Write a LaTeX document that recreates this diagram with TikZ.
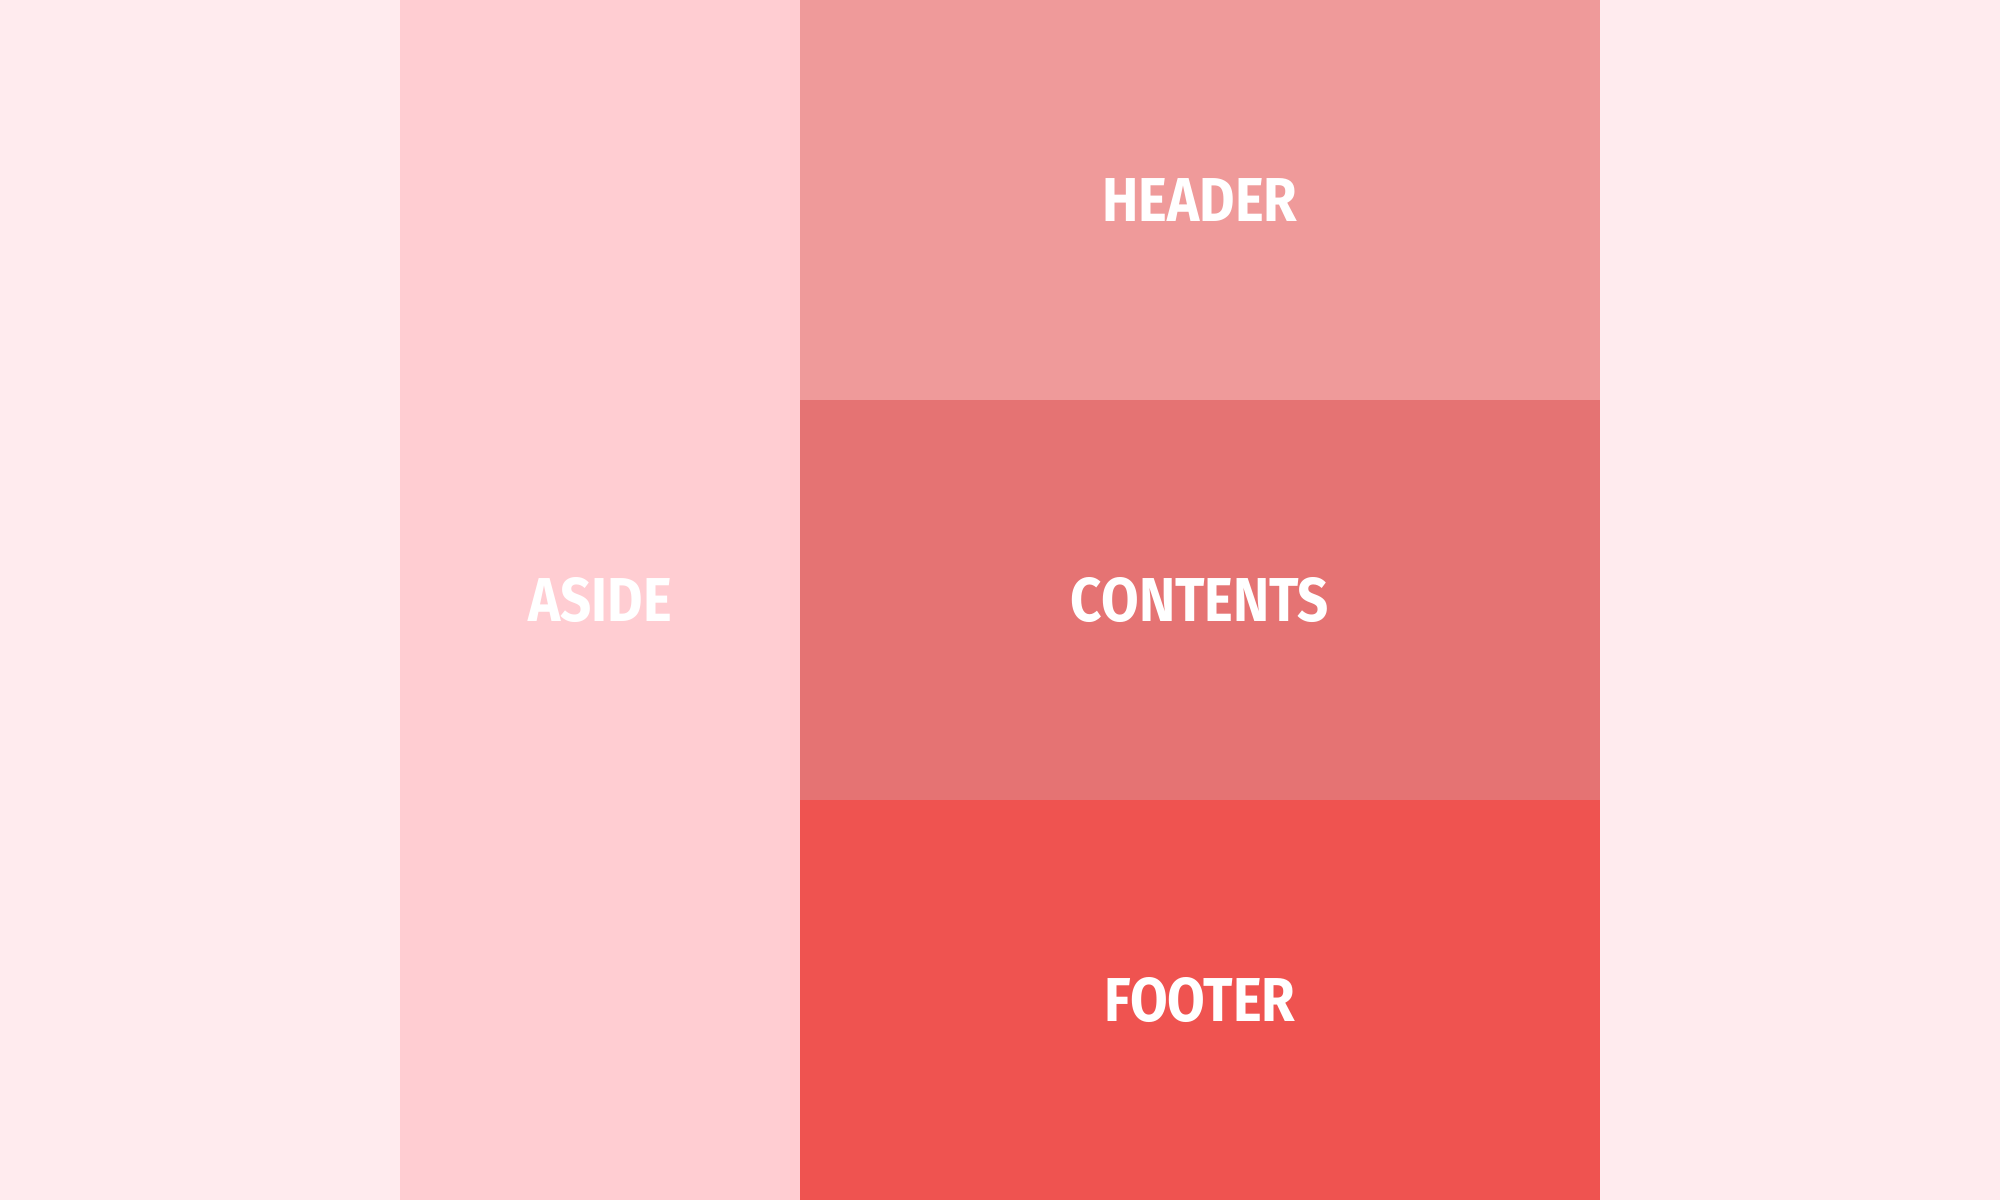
\documentclass[tikz,border=0pt]{standalone}
\usepackage{fontspec}
\setmainfont{Fira Sans}
\definecolor{bgc}{HTML}{FFEBEE}
\definecolor{asidec}{HTML}{FFCDD2}
\definecolor{headerc}{HTML}{EF9A9A}
\definecolor{contentsc}{HTML}{E57373}
\definecolor{footerc}{HTML}{EF5350}
\begin{document}
\begin{tikzpicture}[x=1pt,y=-1pt,
  lbl/.style={text=white,font=\fontsize{62}{62}\selectfont\bfseries,xscale=0.88,inner sep=0pt}]
\useasboundingbox (0,0) rectangle (2000,1200);
\fill[bgc] (0,0) rectangle (2000,1200);
\fill[asidec] (400,0) rectangle (800,1200);
\fill[headerc] (800,0) rectangle (1600,400);
\fill[contentsc] (800,400) rectangle (1600,800);
\fill[footerc] (800,800) rectangle (1600,1200);
\node[lbl] (aside) at (600,600) {ASIDE};
\node[lbl] (header) at (1200,200) {HEADER};
\node[lbl] (contents) at (1200,600) {CONTENTS};
\node[lbl] (footer) at (1200,1000) {FOOTER};
\end{tikzpicture}
\end{document}
